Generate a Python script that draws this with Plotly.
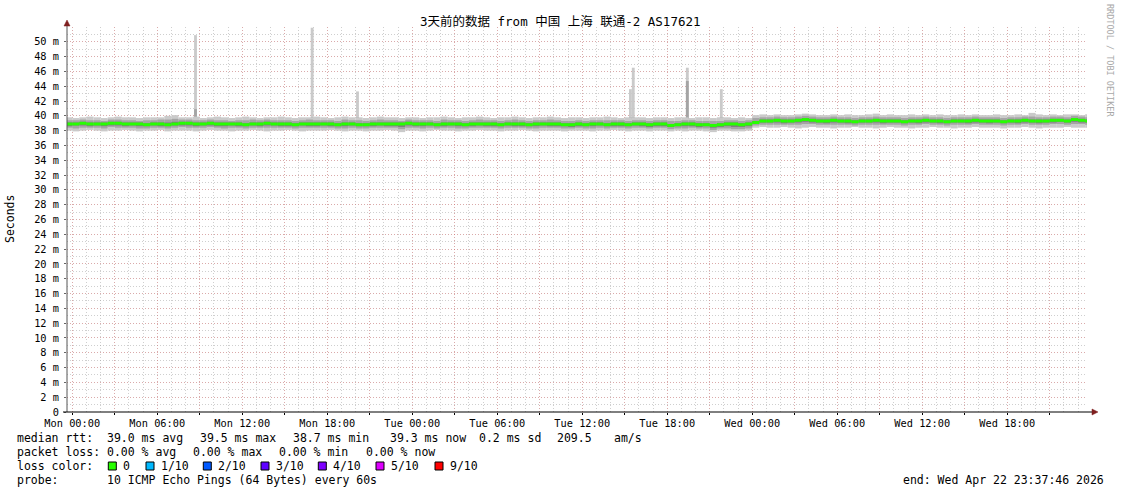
import numpy as np
import pandas as pd
import plotly.graph_objects as go

# ---------------- data ----------------
title = "3天前的数据 from 中国 上海 联通-2 AS17621"
range_start = "2026-04-19 23:37:46"
range_end = "2026-04-22 23:37:46"
bin_start = "2026-04-19 23:30"
bin_minutes = 30

median = [
    38.9, 38.9, 39.0, 38.9, 38.9, 38.9, 39.0, 39.0, 38.9, 38.9, 38.9, 38.8,
    38.9, 38.9, 38.8, 38.9, 39.0, 39.0, 38.9, 38.9, 39.0, 38.9, 38.9, 38.9,
    38.9, 38.8, 38.9, 38.9, 39.0, 38.9, 38.9, 38.9, 38.8, 38.9, 38.9, 38.9,
    38.9, 38.9, 38.8, 38.9, 38.9, 38.8, 38.8, 38.9, 38.9, 38.9, 38.9, 38.9,
    39.0, 38.9, 38.9, 38.9, 38.8, 38.9, 38.9, 38.9, 38.8, 38.9, 38.9, 38.9,
    38.9, 38.8, 38.9, 38.9, 38.9, 38.8, 38.9, 38.9, 38.9, 38.9, 38.8, 38.8,
    38.9, 38.8, 38.9, 38.9, 38.8, 38.9, 38.9, 38.8, 38.9, 38.9, 38.8, 38.9,
    38.9, 38.7, 38.8, 38.9, 38.9, 38.8, 38.8, 38.7, 38.8, 38.9, 38.9, 38.8,
    38.9,
    39.1, 39.3, 39.3, 39.4, 39.3, 39.3, 39.4, 39.5, 39.4, 39.3, 39.3, 39.4,
    39.3, 39.3, 39.2, 39.3, 39.3, 39.4, 39.3, 39.3, 39.3, 39.2, 39.3, 39.3,
    39.4, 39.3, 39.3, 39.2, 39.3, 39.3, 39.3, 39.4, 39.3, 39.3, 39.3, 39.2,
    39.3, 39.3, 39.4, 39.3, 39.3, 39.3, 39.4, 39.4, 39.3, 39.5, 39.4, 39.3,
]

ping_max = [
    39.8, 39.7, 39.8, 39.9, 39.8, 39.7, 39.8, 39.9, 39.8, 39.8, 39.7, 39.8,
    39.8, 39.8, 40.0, 40.1, 39.8, 39.8, 39.9, 39.7, 39.8, 39.9, 39.8, 39.7,
    39.8, 39.9, 39.8, 39.7, 39.8, 39.8, 39.9, 39.8, 39.7, 39.8, 39.8, 39.9,
    39.8, 39.7, 39.8, 39.9, 39.8, 39.8, 39.7, 39.8, 39.9, 39.8, 39.8, 39.7,
    39.8, 39.8, 39.7, 39.8, 39.8, 39.9, 39.8, 39.7, 39.8, 39.8, 39.9, 39.8,
    39.7, 39.8, 39.8, 39.9, 39.8, 39.7, 39.8, 39.8, 39.9, 39.8, 39.7, 39.8,
    39.8, 39.7, 39.8, 39.8, 39.9, 39.8, 39.7, 39.8, 39.8, 39.8, 39.7, 39.8,
    39.8, 39.7, 39.8, 39.8, 39.7, 39.8, 39.8, 39.7, 39.8, 39.8, 39.7, 39.8,
    39.7,
    40.1, 40.2, 40.1, 40.2, 40.1, 40.1, 40.2, 40.3, 40.2, 40.1, 40.1, 40.2,
    40.1, 40.2, 40.1, 40.1, 40.2, 40.3, 40.1, 40.2, 40.1, 40.1, 40.2, 40.1,
    40.2, 40.1, 40.2, 40.1, 40.1, 40.2, 40.1, 40.2, 40.1, 40.1, 40.2, 40.1,
    40.1, 40.2, 40.1, 40.4, 40.2, 40.1, 40.2, 40.1, 40.2, 40.2, 40.1, 40.2,
]

ping_min = [
    38.0, 37.9, 38.0, 38.1, 38.0, 37.9, 38.0, 38.0, 38.1, 38.0, 37.9, 38.0,
    38.0, 38.1, 37.9, 38.0, 38.0, 38.0, 37.9, 38.0, 38.1, 38.0, 38.0, 37.9,
    38.0, 38.0, 38.1, 38.0, 37.9, 38.0, 38.0, 38.1, 38.0, 37.9, 38.0, 38.0,
    38.0, 38.1, 38.0, 37.9, 38.0, 38.0, 37.9, 38.0, 38.0, 38.1, 38.0, 37.8,
    38.0, 38.0, 37.9, 38.0, 38.1, 38.0, 38.0, 37.9, 38.0, 38.0, 38.1, 38.0,
    38.0, 37.9, 38.0, 38.0, 38.1, 38.0, 37.9, 38.0, 38.0, 38.0, 37.9, 38.0,
    38.0, 38.0, 37.9, 38.0, 38.0, 38.1, 38.0, 37.9, 38.0, 38.0, 37.9, 38.0,
    38.0, 37.9, 38.0, 37.9, 38.0, 38.0, 37.9, 37.8, 38.0, 38.0, 37.9, 37.9,
    38.0,
    38.4, 38.5, 38.4, 38.4, 38.5, 38.4, 38.3, 38.4, 38.5, 38.4, 38.4, 38.3,
    38.4, 38.4, 38.5, 38.4, 38.4, 38.3, 38.4, 38.5, 38.4, 38.4, 38.3, 38.4,
    38.4, 38.5, 38.4, 38.4, 38.3, 38.4, 38.4, 38.5, 38.4, 38.4, 38.4, 38.3,
    38.4, 38.4, 38.5, 38.4, 38.3, 38.4, 38.4, 38.4, 38.5, 38.4, 38.4, 38.4,
]

ping_hi2 = [
    39.4, 39.4, 39.5, 39.4, 39.4, 39.3, 39.5, 39.5, 39.4, 39.4, 39.3, 39.4,
    39.4, 39.5, 39.5, 39.6, 39.5, 39.5, 39.4, 39.4, 39.5, 39.4, 39.4, 39.3,
    39.4, 39.4, 39.5, 39.4, 39.5, 39.4, 39.4, 39.4, 39.3, 39.4, 39.5, 39.4,
    39.4, 39.4, 39.3, 39.5, 39.4, 39.4, 39.3, 39.4, 39.5, 39.4, 39.4, 39.3,
    39.5, 39.4, 39.4, 39.4, 39.3, 39.5, 39.4, 39.4, 39.3, 39.4, 39.5, 39.4,
    39.4, 39.3, 39.4, 39.5, 39.4, 39.3, 39.4, 39.4, 39.5, 39.4, 39.3, 39.3,
    39.4, 39.3, 39.4, 39.4, 39.4, 39.4, 39.4, 39.3, 39.4, 39.4, 39.3, 39.4,
    39.4, 39.3, 39.3, 39.4, 39.4, 39.3, 39.3, 39.3, 39.3, 39.4, 39.4, 39.3,
    39.4,
    39.7, 39.8, 39.8, 39.9, 39.8, 39.8, 39.9, 40.0, 39.9, 39.8, 39.8, 39.9,
    39.8, 39.8, 39.7, 39.8, 39.8, 39.9, 39.8, 39.8, 39.8, 39.7, 39.8, 39.8,
    39.9, 39.8, 39.8, 39.7, 39.8, 39.8, 39.8, 39.9, 39.8, 39.8, 39.8, 39.7,
    39.8, 39.8, 39.9, 39.9, 39.8, 39.8, 39.9, 39.9, 39.8, 40.0, 39.9, 39.8,
]

ping_lo2 = [
    38.4, 38.3, 38.4, 38.4, 38.4, 38.3, 38.5, 38.4, 38.4, 38.4, 38.3, 38.3,
    38.4, 38.4, 38.3, 38.4, 38.5, 38.4, 38.4, 38.4, 38.5, 38.4, 38.3, 38.4,
    38.4, 38.3, 38.4, 38.4, 38.4, 38.4, 38.4, 38.4, 38.3, 38.4, 38.4, 38.4,
    38.4, 38.4, 38.3, 38.3, 38.4, 38.3, 38.3, 38.4, 38.4, 38.4, 38.4, 38.2,
    38.4, 38.4, 38.3, 38.4, 38.3, 38.4, 38.4, 38.3, 38.3, 38.4, 38.4, 38.4,
    38.4, 38.3, 38.4, 38.4, 38.4, 38.3, 38.3, 38.4, 38.4, 38.4, 38.3, 38.3,
    38.4, 38.3, 38.3, 38.4, 38.3, 38.4, 38.4, 38.3, 38.4, 38.4, 38.3, 38.4,
    38.4, 38.2, 38.3, 38.3, 38.4, 38.3, 38.3, 38.1, 38.3, 38.3, 38.2, 38.2,
    38.3,
    38.7, 38.8, 38.8, 38.8, 38.8, 38.8, 38.8, 38.9, 38.9, 38.8, 38.8, 38.8,
    38.8, 38.8, 38.7, 38.8, 38.8, 38.8, 38.8, 38.8, 38.8, 38.7, 38.8, 38.8,
    38.9, 38.8, 38.8, 38.7, 38.8, 38.8, 38.8, 38.9, 38.8, 38.8, 38.8, 38.7,
    38.8, 38.8, 38.9, 38.8, 38.8, 38.8, 38.9, 38.9, 38.8, 38.9, 38.9, 38.8,
]

ping_hi3 = [
    39.1, 39.1, 39.2, 39.1, 39.1, 39.1, 39.2, 39.2, 39.1, 39.1, 39.1, 39.0,
    39.1, 39.1, 39.1, 39.2, 39.2, 39.2, 39.1, 39.1, 39.2, 39.1, 39.1, 39.1,
    39.1, 39.0, 39.1, 39.1, 39.2, 39.1, 39.1, 39.1, 39.0, 39.1, 39.1, 39.1,
    39.1, 39.1, 39.0, 39.1, 39.1, 39.0, 39.0, 39.1, 39.1, 39.1, 39.1, 39.1,
    39.2, 39.1, 39.1, 39.1, 39.0, 39.1, 39.1, 39.1, 39.0, 39.1, 39.1, 39.1,
    39.1, 39.0, 39.1, 39.1, 39.1, 39.0, 39.1, 39.1, 39.1, 39.1, 39.0, 39.0,
    39.1, 39.0, 39.1, 39.1, 39.0, 39.1, 39.1, 39.0, 39.1, 39.1, 39.0, 39.1,
    39.1, 38.9, 39.0, 39.1, 39.1, 39.0, 39.0, 38.9, 39.0, 39.1, 39.1, 39.0,
    39.1,
    39.3, 39.5, 39.5, 39.6, 39.5, 39.5, 39.6, 39.7, 39.6, 39.5, 39.5, 39.6,
    39.5, 39.5, 39.4, 39.5, 39.5, 39.6, 39.5, 39.5, 39.5, 39.4, 39.5, 39.5,
    39.6, 39.5, 39.5, 39.4, 39.5, 39.5, 39.5, 39.6, 39.5, 39.5, 39.5, 39.4,
    39.5, 39.5, 39.6, 39.5, 39.5, 39.5, 39.6, 39.6, 39.5, 39.7, 39.6, 39.5,
]

ping_lo3 = [
    38.6, 38.7, 38.7, 38.6, 38.7, 38.6, 38.7, 38.7, 38.6, 38.7, 38.6, 38.6,
    38.7, 38.6, 38.6, 38.7, 38.7, 38.7, 38.6, 38.7, 38.7, 38.6, 38.6, 38.7,
    38.6, 38.6, 38.7, 38.6, 38.7, 38.7, 38.6, 38.6, 38.6, 38.7, 38.6, 38.6,
    38.7, 38.6, 38.6, 38.6, 38.7, 38.6, 38.6, 38.6, 38.7, 38.6, 38.6, 38.5,
    38.7, 38.6, 38.6, 38.7, 38.6, 38.6, 38.7, 38.6, 38.6, 38.6, 38.7, 38.6,
    38.6, 38.6, 38.7, 38.6, 38.6, 38.6, 38.6, 38.7, 38.6, 38.6, 38.6, 38.5,
    38.6, 38.6, 38.6, 38.7, 38.6, 38.6, 38.6, 38.6, 38.7, 38.6, 38.5, 38.6,
    38.6, 38.5, 38.6, 38.6, 38.6, 38.5, 38.6, 38.4, 38.5, 38.6, 38.5, 38.5,
    38.6,
    38.9, 39.1, 39.1, 39.1, 39.0, 39.1, 39.1, 39.2, 39.1, 39.1, 39.0, 39.1,
    39.1, 39.0, 39.0, 39.1, 39.1, 39.1, 39.0, 39.1, 39.1, 39.0, 39.1, 39.0,
    39.1, 39.1, 39.0, 39.0, 39.1, 39.1, 39.0, 39.1, 39.1, 39.0, 39.1, 39.0,
    39.1, 39.0, 39.1, 39.1, 39.0, 39.1, 39.1, 39.2, 39.1, 39.2, 39.1, 39.1,
]

# occasional single-round outliers
spike_times = ["2026-04-20 08:42", "2026-04-20 16:56", "2026-04-20 20:08",
               "2026-04-21 15:24", "2026-04-21 15:36", "2026-04-21 19:25",
               "2026-04-21 21:49"]
spike_max = [50.9, 51.9, 43.3, 43.6, 46.5, 46.5, 43.6]
spike_p9 = [40.9, 39.8, 39.8, 39.8, 39.8, 44.7, 39.8]

y_tick_values = list(range(0, 51, 2))
y_tick_labels = ["0"] + [f"{v} m" for v in y_tick_values[1:]]

rtt_avg, rtt_max, rtt_min, rtt_now, rtt_sd, rtt_ams = 39.0, 39.5, 38.7, 39.3, 0.2, 209.5
loss_avg, loss_max, loss_min, loss_now = 0.00, 0.00, 0.00, 0.00
loss_labels = ["0", "1/10", "2/10", "3/10", "4/10", "5/10", "9/10"]
loss_colors = ["#26ff00", "#00b8ff", "#0059ff", "#5e00ff", "#7e00ff", "#dd00ff", "#ff0000"]
probe_text = "10 ICMP Echo Pings (64 Bytes) every 60s"
end_text = "end: Wed Apr 22 23:37:46 2026"

# ---------------- figure ----------------
W, H = 1121, 494
PL, PR, PT, PB = 67, 1087, 27, 412
MONO = "DejaVu Sans Mono"


def px(x):
    return (x - PL) / (PR - PL)


def py(y):
    return (PB - y) / (PB - PT)


n = len(median)
centers = pd.Timestamp(bin_start) + pd.to_timedelta((np.arange(n) + 0.5) * bin_minutes, unit="min")
bw = bin_minutes * 60 * 1000

fig = go.Figure()

sp_t = pd.to_datetime(spike_times)
sp_base = 39.5
fig.add_trace(go.Bar(x=sp_t, base=sp_base, y=np.array(spike_max) - sp_base, width=12 * 60 * 1000,
                     marker=dict(color="#cacaca", line=dict(width=0)), hoverinfo="skip"))
fig.add_trace(go.Bar(x=sp_t, base=sp_base, y=np.array(spike_p9) - sp_base, width=12 * 60 * 1000,
                     marker=dict(color="#a4a4a4", line=dict(width=0)), hoverinfo="skip"))

for lo, hi, col in [(ping_min, ping_max, "#cacaca"),
                    (ping_lo2, ping_hi2, "#a4a4a4"),
                    (ping_lo3, ping_hi3, "#7e7e7e")]:
    lo = np.array(lo)
    hi = np.array(hi)
    fig.add_trace(go.Bar(x=centers, base=lo, y=hi - lo, width=bw,
                         marker=dict(color=col, line=dict(width=0)), hoverinfo="skip"))

med = np.array(median)
half = 0.2
fig.add_trace(go.Bar(x=centers, base=med - half, y=np.full(n, 2 * half), width=bw,
                     marker=dict(color=loss_colors[0], line=dict(width=0)), hoverinfo="skip"))

# x ticks every 3h (labelled every 6h)
xt = pd.date_range("2026-04-20 00:00", "2026-04-22 21:00", freq="3h")
xtext = [t.strftime("%a %H:%M") if t.hour % 6 == 0 else "" for t in xt]

minor_grid = "rgba(160,160,160,0.5)"
major_grid = "rgba(240,100,100,0.34)"
dots = "1px,2px"

fig.update_layout(
    width=W, height=H,
    margin=dict(l=PL, r=W - PR, t=PT, b=H - PB, pad=0),
    paper_bgcolor="white", plot_bgcolor="white",
    barmode="overlay", showlegend=False,
    xaxis=dict(type="date", range=[range_start, range_end],
               tickmode="array", tickvals=xt, ticktext=xtext,
               showgrid=True, gridcolor=major_grid, griddash=dots, gridwidth=1,
               ticks="outside", ticklen=2, tickcolor="#000", zeroline=False, showline=False,
               tickfont=dict(family=MONO, size=10.3, color="#000"), ticklabelstandoff=0,
               minor=dict(tickmode="linear", tick0="2026-04-20 00:00", dtick=3600000,
                          showgrid=True, gridcolor=minor_grid, griddash=dots, ticks=""),
               fixedrange=True),
    yaxis=dict(range=[0, 52], tickmode="array", tickvals=y_tick_values, ticktext=y_tick_labels,
               showgrid=True, gridcolor=major_grid, griddash=dots, gridwidth=1,
               ticks="outside", ticklen=2, tickcolor="#666", zeroline=False, showline=False,
               tickfont=dict(family=MONO, size=10.3, color="#000"), ticklabelstandoff=3,
               minor=dict(tickmode="linear", tick0=0, dtick=1, showgrid=True,
                          gridcolor=minor_grid, griddash=dots, ticks=""),
               fixedrange=True),
)

shapes = []
# axes
shapes.append(dict(type="line", xref="paper", yref="paper", x0=px(67), x1=px(67), y0=py(412), y1=py(23),
                   line=dict(color="#555555", width=1)))
shapes.append(dict(type="line", xref="paper", yref="paper", x0=px(63), x1=px(1094), y0=py(412), y1=py(412),
                   line=dict(color="#000000", width=1)))
# arrows
shapes.append(dict(type="path", xref="paper", yref="paper",
                   path=f"M {px(64)},{py(26)} L {px(67)},{py(20)} L {px(70)},{py(26)} Z",
                   fillcolor="#7f1f1f", line=dict(color="#7f1f1f", width=0.5)))
shapes.append(dict(type="path", xref="paper", yref="paper",
                   path=f"M {px(1092)},{py(409)} L {px(1098)},{py(412)} L {px(1092)},{py(415)} Z",
                   fillcolor="#7f1f1f", line=dict(color="#7f1f1f", width=0.5)))

ann = []


def txt(s, x, y, size=11.5, anchor="left", color="#000", family=MONO, angle=0):
    ann.append(dict(text=s, x=px(x), y=py(y), xref="paper", yref="paper", showarrow=False,
                    xanchor=anchor, yanchor="middle", borderpad=0, borderwidth=0,
                    textangle=angle, font=dict(family=family, size=size, color=color)))


txt(title, 560, 21, size=12.5, anchor="center", family=MONO + ", Noto Sans CJK SC")
txt("Seconds", 10, 219, size=11.5, anchor="center", angle=-90)
txt("RRDTOOL / TOBI OETIKER", 1110, 60, size=8.5, anchor="center", color="#a8a8a8", angle=90)

rows = [438, 452, 466, 480]
row1 = ["median rtt:", f"{rtt_avg:.1f} ms avg", f"{rtt_max:.1f} ms max", f"{rtt_min:.1f} ms min",
        f"{rtt_now:.1f} ms now", f"{rtt_sd:.1f} ms sd", f"{rtt_ams:.1f}", "am/s"]
row1_x = [16.7, 107.3, 200, 293.3, 390, 479, 557.3, 614]
for s, x in zip(row1, row1_x):
    txt(s, x, rows[0])
row2 = ["packet loss:", f"{loss_avg:.2f} % avg", f"{loss_max:.2f} % max", f"{loss_min:.2f} % min",
        f"{loss_now:.2f} % now"]
row2_x = [16.7, 107.3, 193.3, 279.3, 365.7]
for s, x in zip(row2, row2_x):
    txt(s, x, rows[1])
txt("loss color:", 16.7, rows[2])
box_x = [108.3, 146, 203.3, 261, 318.3, 376, 435]
for lab, col, bx in zip(loss_labels, loss_colors, box_x):
    shapes.append(dict(type="rect", xref="paper", yref="paper", x0=px(bx), x1=px(bx + 8),
                       y0=py(470), y1=py(462), fillcolor=col, line=dict(color="#000", width=1)))
    txt(lab, bx + 15, rows[2])
txt("probe:", 16.7, rows[3])
txt(probe_text, 107.3, rows[3])
txt(end_text, 1104, rows[3], anchor="right")

fig.update_layout(shapes=shapes, annotations=ann)
fig.write_html("out.html", config={"displayModeBar": False, "staticPlot": True},
               post_script="document.body.style.margin='0';document.body.style.overflow='hidden';")
